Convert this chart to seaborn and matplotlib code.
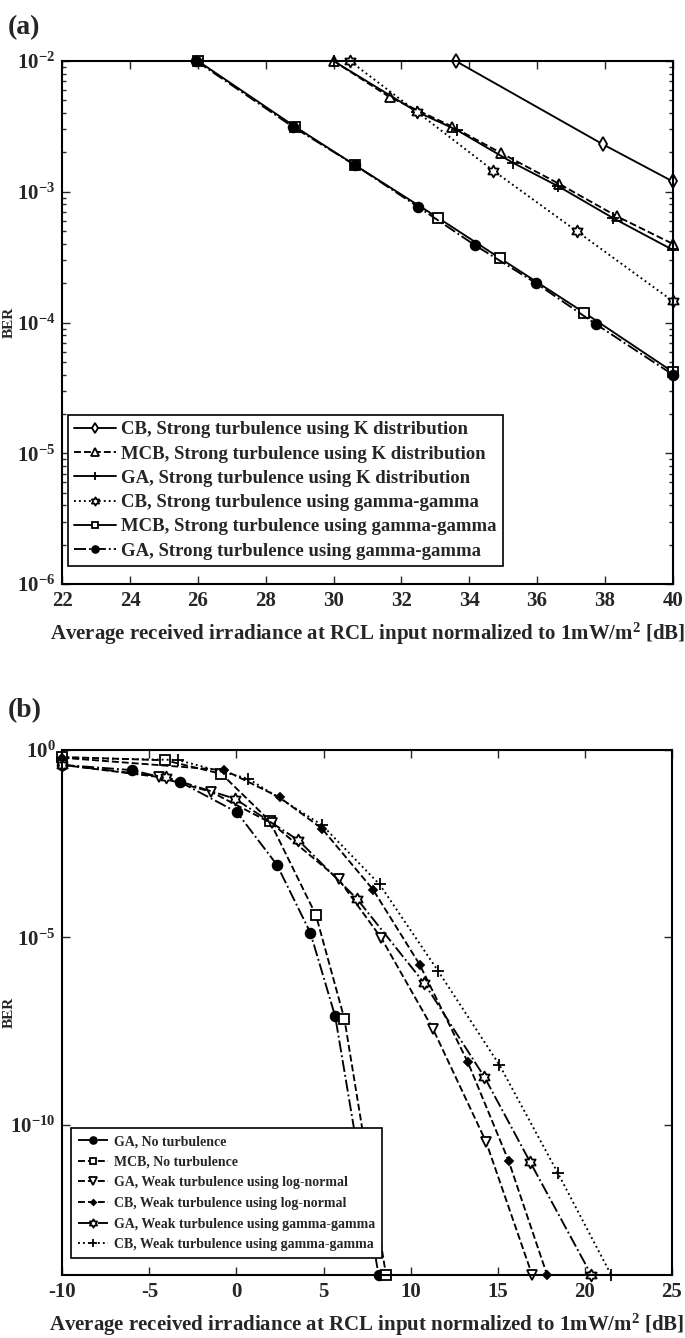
import numpy as np
import matplotlib
matplotlib.use("Agg")
import matplotlib.pyplot as plt
from matplotlib.path import Path
from matplotlib.ticker import FixedLocator, FixedFormatter, NullLocator, LogLocator
import seaborn as sns

# ---- panel (a): strong turbulence ----
a_cb_k_x = [33.6, 37.95, 40]
a_cb_k_y = [1e-2, 2.3e-3, 1.2e-3]
a_mcb_k_x = [30, 31.65, 33.5, 34.95, 36.65, 38.35, 40]
a_mcb_k_y = [1e-2, 5.3e-3, 3.15e-3, 1.97e-3, 1.15e-3, 6.5e-4, 4.0e-4]
a_ga_k_x = [30, 32.45, 33.63, 35.3, 36.63, 38.24, 40]
a_ga_k_y = [1e-2, 4.1e-3, 2.97e-3, 1.66e-3, 1.1e-3, 6.3e-4, 3.6e-4]
a_cb_gg_x = [30.48, 32.45, 34.71, 37.17, 40]
a_cb_gg_y = [1e-2, 4.1e-3, 1.45e-3, 5.0e-4, 1.46e-4]
a_mcb_gg_x = [26, 28.86, 30.63, 33.09, 34.91, 37.39, 40]
a_mcb_gg_y = [1e-2, 3.15e-3, 1.6e-3, 6.3e-4, 3.1e-4, 1.19e-4, 4.2e-5]
a_ga_gg_x = [25.95, 28.79, 30.63, 32.48, 34.17, 35.97, 37.74, 40]
a_ga_gg_y = [1e-2, 3.15e-3, 1.6e-3, 7.7e-4, 3.9e-4, 2.0e-4, 9.7e-5, 4.0e-5]
a_labels = ["CB, Strong turbulence using K distribution",
            "MCB, Strong turbulence using K distribution",
            "GA, Strong turbulence using K distribution",
            "CB, Strong turbulence using gamma-gamma",
            "MCB, Strong turbulence using gamma-gamma",
            "GA, Strong turbulence using gamma-gamma"]
a_xticks = [22, 24, 26, 28, 30, 32, 34, 36, 38, 40]
a_yticks = [1e-6, 1e-5, 1e-4, 1e-3, 1e-2]
a_yticklabels = ["-6", "-5", "-4", "-3", "-2"]

# ---- panel (b): no / weak turbulence ----
b_ga_nt_x = [-10, -6.0, -3.24, 0.02, 2.32, 4.24, 5.67, 8.16]
b_ga_nt_y = [0.4, 0.29, 0.14, 0.022, 8.7e-4, 1.35e-5, 7.9e-8, 1e-14]
b_mcb_nt_x = [-10, -4.1, -0.86, 1.9, 4.56, 6.2, 8.59]
b_mcb_nt_y = [0.65, 0.53, 0.23, 0.013, 4e-5, 6.7e-8, 1e-14]
b_ga_ln_x = [-10, -4.46, -1.45, 2.03, 5.86, 8.32, 11.29, 14.33, 16.98]
b_ga_ln_y = [0.4, 0.19, 0.076, 0.011, 3.6e-4, 9.6e-6, 3.6e-8, 3.6e-11, 1e-14]
b_cb_ln_x = [-10, -0.7, 2.49, 4.91, 7.84, 10.52, 13.28, 15.63, 17.84]
b_cb_ln_y = [0.62, 0.29, 0.054, 8e-3, 1.9e-4, 1.9e-6, 4.8e-9, 1.1e-11, 1e-14]
b_ga_gg_x = [-10, -4.05, -0.09, 3.56, 6.92, 10.79, 14.24, 16.88, 20.38]
b_ga_gg_y = [0.4, 0.19, 0.05, 3.9e-3, 1.07e-4, 6e-7, 1.9e-9, 1e-11, 1e-14]
b_cb_gg_x = [-10, -3.37, 0.69, 4.91, 8.22, 11.57, 15.1, 18.45, 21.52]
b_cb_gg_y = [0.62, 0.54, 0.17, 0.01, 2.6e-4, 1.3e-6, 4e-9, 5.3e-12, 1e-14]
b_labels = ["GA, No turbulence",
            "MCB, No turbulence",
            "GA, Weak turbulence using log-normal",
            "CB, Weak turbulence using log-normal",
            "GA, Weak turbulence using gamma-gamma",
            "CB, Weak turbulence using gamma-gamma"]
b_xticks = [-10, -5, 0, 5, 10, 15, 20, 25]
b_yticks = [1e-10, 1e-5, 1e0]
b_yticklabels = ["-10", "-5", "0"]

xlabel = r"Average received irradiance at RCL input normalized to 1mW/m$^{\mathbf{2}}$ [dB]"

sns.set_style("ticks")
plt.rcParams["font.family"] = ["Liberation Serif", "DejaVu Serif"]
plt.rcParams["font.weight"] = "bold"
plt.rcParams["axes.labelweight"] = "bold"
plt.rcParams["mathtext.fontset"] = "custom"
plt.rcParams["mathtext.rm"] = "Liberation Serif:bold"
plt.rcParams["mathtext.bf"] = "Liberation Serif:bold"
plt.rcParams["mathtext.it"] = "Liberation Serif:bold:italic"

# six-pointed star like matlab's hexagram
ang = np.deg2rad(90 + 30 * np.arange(12))
rad = np.where(np.arange(12) % 2 == 0, 1.0, 1 / np.sqrt(3))
hexv = np.column_stack([rad * np.cos(ang), rad * np.sin(ang)])
hexagram = Path(np.vstack([hexv, hexv[:1]]), closed=True)


def draw(ax, x, y, ls, marker, ms, mfc, label):
    sns.lineplot(x=x, y=y, ax=ax, color="k", linestyle=ls, linewidth=1.35,
                 marker=marker, markersize=ms, markerfacecolor=mfc,
                 markeredgecolor="k", markeredgewidth=1.3,
                 estimator=None, errorbar=None, sort=False,
                 label=label, clip_on=False)


def style_axes(ax, xlim, ylim, xticks, yticks, ylabs):
    ax.set_yscale("log")
    ax.set_xlim(*xlim)
    ax.set_ylim(*ylim)
    ax.xaxis.set_major_locator(FixedLocator(xticks))
    ax.set_xticklabels([str(t) for t in xticks])
    ax.yaxis.set_major_locator(FixedLocator(yticks))
    ax.yaxis.set_major_formatter(FixedFormatter(
        [r"$\mathbf{10^{%s}}$" % s for s in ylabs]))
    ax.tick_params(which="both", direction="in", top=True, right=True,
                   labelsize=15, width=1.0, pad=5)
    ax.tick_params(which="major", length=6)
    ax.tick_params(which="minor", length=3)
    for sp in ax.spines.values():
        sp.set_linewidth(1.5)
        sp.set_color("k")
    ax.set_ylabel("BER", fontsize=11, fontweight="bold")
    ax.yaxis.set_label_coords(-0.077, 0.5)
    ax.set_xlabel(xlabel, fontsize=15, fontweight="bold", labelpad=7)


fig = plt.figure(figsize=(6.85, 13.38), dpi=100)
ax1 = fig.add_axes([0.091, 0.5635, 0.891, 0.3909])
ax2 = fig.add_axes([0.091, 0.0471, 0.8897, 0.3924])

draw(ax1, a_cb_k_x, a_cb_k_y, "-", "d", 7.5, "w", a_labels[0])
draw(ax1, a_mcb_k_x, a_mcb_k_y, "--", "^", 7.5, "w", a_labels[1])
draw(ax1, a_ga_k_x, a_ga_k_y, "-", "+", 8.5, "k", a_labels[2])
draw(ax1, a_cb_gg_x, a_cb_gg_y, ":", hexagram, 8.5, "w", a_labels[3])
draw(ax1, a_mcb_gg_x, a_mcb_gg_y, "-", "s", 7, "w", a_labels[4])
draw(ax1, a_ga_gg_x, a_ga_gg_y, "-.", "o", 7, "k", a_labels[5])
style_axes(ax1, (22, 40), (1e-6, 1e-2), a_xticks, a_yticks, a_yticklabels)
ax1.yaxis.set_minor_locator(LogLocator(base=10, subs=np.arange(2, 10)))

draw(ax2, b_ga_nt_x, b_ga_nt_y, "-.", "o", 7, "k", b_labels[0])
draw(ax2, b_mcb_nt_x, b_mcb_nt_y, "--", "s", 7, "w", b_labels[1])
draw(ax2, b_ga_ln_x, b_ga_ln_y, "--", "v", 7.5, "w", b_labels[2])
draw(ax2, b_cb_ln_x, b_cb_ln_y, "--", "D", 3.8, "k", b_labels[3])
draw(ax2, b_ga_gg_x, b_ga_gg_y, "-.", hexagram, 8.5, "w", b_labels[4])
draw(ax2, b_cb_gg_x, b_cb_gg_y, ":", "+", 8.5, "k", b_labels[5])
style_axes(ax2, (-10, 25), (1e-14, 1e0), b_xticks, b_yticks, b_yticklabels)
ax2.yaxis.set_minor_locator(NullLocator())

leg1 = ax1.legend(loc="lower left", bbox_to_anchor=(0.009, 0.034),
                  borderaxespad=0, fancybox=False, framealpha=1,
                  edgecolor="k", fontsize=13.5, handlelength=2.2,
                  handletextpad=0.3, labelspacing=0.38, borderpad=0.35,
                  markerscale=0.7)
leg1.get_frame().set_linewidth(1.2)
leg2 = ax2.legend(loc="lower left", bbox_to_anchor=(0.014, 0.032),
                  borderaxespad=0, fancybox=False, framealpha=1,
                  edgecolor="k", fontsize=10, handlelength=2.2,
                  handletextpad=0.4, labelspacing=0.55, borderpad=0.5,
                  markerscale=0.7)
leg2.get_frame().set_linewidth(1.2)

fig.text(0.012, 0.989, "(a)", fontsize=20, fontweight="bold", va="top")
fig.text(0.012, 0.478, "(b)", fontsize=20, fontweight="bold", va="top")

fig.savefig("out.png", dpi=100)
